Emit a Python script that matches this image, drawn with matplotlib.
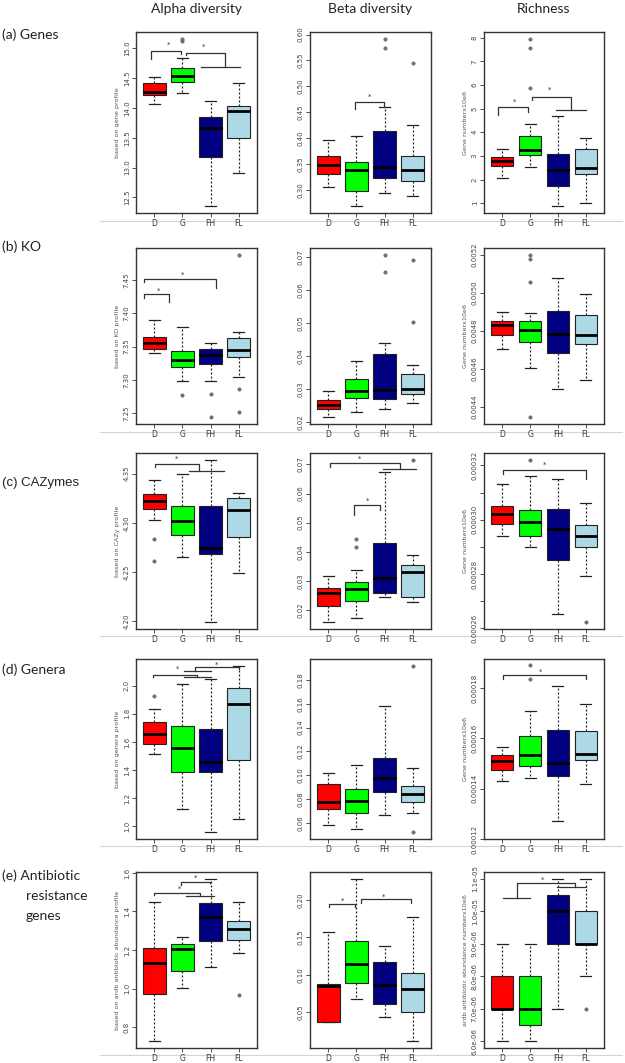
import matplotlib
matplotlib.use("Agg")
import matplotlib.pyplot as plt
from matplotlib.lines import Line2D
import numpy as np

# ---------------- data ----------------
groups = ["D", "G", "FH", "FL"]
colors = ["#FF0000", "#00FF00", "#000080", "#ADD8E6"]

# stats per group: [whislo, q1, median, q3, whishi]
genes_alpha = [[14.07, 14.22, 14.27, 14.42, 14.52],
               [14.25, 14.44, 14.53, 14.67, 14.83],
               [12.35, 13.18, 13.66, 13.85, 14.12],
               [12.90, 13.49, 13.94, 14.04, 14.41]]
genes_alpha_out = [[], [15.12, 15.16], [], []]

genes_beta = [[0.306, 0.331, 0.348, 0.365, 0.396],
              [0.269, 0.299, 0.338, 0.355, 0.404],
              [0.294, 0.323, 0.344, 0.415, 0.460],
              [0.288, 0.318, 0.339, 0.366, 0.426]]
genes_beta_out = [[], [], [0.575, 0.592], [0.546]]

genes_rich = [[2.08, 2.57, 2.79, 2.97, 3.29],
              [2.52, 3.06, 3.27, 3.85, 4.37],
              [0.87, 1.74, 2.40, 3.09, 4.67],
              [0.99, 2.24, 2.50, 3.29, 3.78]]
genes_rich_out = [[], [5.87, 7.58, 7.96], [], []]

ko_alpha = [[7.341, 7.3465, 7.355, 7.365, 7.390],
            [7.298, 7.319, 7.330, 7.344, 7.380],
            [7.298, 7.324, 7.337, 7.347, 7.3555],
            [7.3045, 7.3345, 7.345, 7.3625, 7.3715]]
ko_alpha_out = [[], [7.277], [7.279, 7.2435], [7.4885, 7.2865, 7.251]]

ko_beta = [[0.0214, 0.0241, 0.0253, 0.0266, 0.0294],
           [0.0231, 0.0273, 0.0294, 0.0329, 0.0386],
           [0.0240, 0.0269, 0.0296, 0.0407, 0.0439],
           [0.0258, 0.0286, 0.0299, 0.0346, 0.0374]]
ko_beta_out = [[], [], [0.0653, 0.0707], [0.0502, 0.0691]]

ko_rich = [[0.004705, 0.004776, 0.004829, 0.004850, 0.004899],
           [0.004605, 0.004741, 0.004801, 0.004852, 0.004895],
           [0.004495, 0.004685, 0.004785, 0.004902, 0.005079],
           [0.004543, 0.004732, 0.004776, 0.004881, 0.004990]]
ko_rich_out = [[], [0.004344, 0.005056, 0.005174, 0.005200], [], []]

caz_alpha = [[4.3028, 4.3140, 4.3217, 4.3291, 4.3433],
             [4.2652, 4.2872, 4.3020, 4.3166, 4.3500],
             [4.1990, 4.2680, 4.2747, 4.3166, 4.3642],
             [4.2489, 4.2853, 4.3129, 4.3247, 4.3298]]
caz_alpha_out = [[4.2839, 4.2613], [], [], []]

caz_beta = [[0.0157, 0.0212, 0.0258, 0.0277, 0.0317],
            [0.0174, 0.0230, 0.0271, 0.0295, 0.0337],
            [0.0246, 0.0259, 0.0311, 0.0429, 0.0673],
            [0.0226, 0.0246, 0.0330, 0.0353, 0.0390]]
caz_beta_out = [[], [0.0417, 0.0444], [], [0.0717]]

caz_rich = [[0.0002941, 0.0002985, 0.0003021, 0.0003051, 0.0003133],
            [0.0002900, 0.0002941, 0.0002991, 0.0003035, 0.0003161],
            [0.0002653, 0.0002851, 0.0002967, 0.0003040, 0.0003150],
            [0.0002792, 0.0002900, 0.0002941, 0.0002980, 0.0003063]]
caz_rich_out = [[], [0.0003222], [], [0.0002621]]

genera_alpha = [[1.517, 1.588, 1.657, 1.742, 1.834],
                [1.126, 1.389, 1.555, 1.711, 2.014],
                [0.957, 1.387, 1.460, 1.692, 2.047],
                [1.054, 1.474, 1.870, 1.983, 2.142]]
genera_alpha_out = [[1.924], [], [], []]

genera_beta = [[0.0580, 0.0718, 0.0777, 0.0928, 0.1020],
               [0.0550, 0.0684, 0.0785, 0.0886, 0.1087],
               [0.0670, 0.0864, 0.0976, 0.1147, 0.1581],
               [0.0687, 0.0777, 0.0839, 0.0906, 0.1060]]
genera_beta_out = [[], [], [], [0.0522, 0.1918]]

genera_rich = [[0.0001429, 0.0001475, 0.0001510, 0.0001533, 0.0001566],
               [0.0001444, 0.0001491, 0.0001535, 0.0001610, 0.0001710],
               [0.0001273, 0.0001451, 0.0001504, 0.0001635, 0.0001810],
               [0.0001419, 0.0001516, 0.0001539, 0.0001631, 0.0001738]]
genera_rich_out = [[], [0.0001835, 0.0001891], [], []]

arg_alpha = [[0.726, 0.972, 1.134, 1.212, 1.447],
             [1.003, 1.094, 1.203, 1.234, 1.269],
             [1.113, 1.247, 1.370, 1.444, 1.571],
             [1.186, 1.250, 1.310, 1.353, 1.449]]
arg_alpha_out = [[], [], [], [0.967]]

arg_beta = [[0.0375, 0.0375, 0.0851, 0.0878, 0.1577],
            [0.0678, 0.0887, 0.1141, 0.1457, 0.2289],
            [0.0441, 0.0606, 0.0869, 0.1167, 0.1386],
            [0.0108, 0.0500, 0.0807, 0.1029, 0.1777]]
arg_beta_out = [[], [], [], []]

arg_rich = [[6.0e-6, 7.0e-6, 7.0e-6, 8.0e-6, 9.0e-6],
            [6.0e-6, 6.5e-6, 7.0e-6, 8.0e-6, 9.0e-6],
            [7.0e-6, 9.0e-6, 1.0e-5, 1.05e-5, 1.1e-5],
            [8.0e-6, 9.0e-6, 9.0e-6, 1.0e-5, 1.1e-5]]
arg_rich_out = [[], [], [], [7.0e-6]]

# significance brackets (polylines in data coords) and stars
genes_alpha_sig = [[(0.88, 14.82), (0.88, 14.96), (1.95, 14.96), (1.95, 14.90)],
                   [(2.13, 14.88), (2.13, 14.92), (3.53, 14.92), (3.53, 14.69)],
                   [(2.67, 14.69), (4.06, 14.69)]]
genes_alpha_star = [(1.51, 15.06), (2.76, 15.03)]
genes_beta_sig = [[(1.95, 0.456), (1.95, 0.470), (2.97, 0.470), (2.97, 0.460)]]
genes_beta_star = [(2.46, 0.480)]
genes_rich_sig = [[(0.84, 4.74), (0.84, 5.06), (1.92, 5.06), (1.92, 4.88)],
                  [(2.06, 5.37), (2.06, 5.51), (3.47, 5.51), (3.47, 4.95)],
                  [(2.93, 4.95), (4.00, 4.95)]]
genes_rich_star = [(1.44, 5.30), (2.71, 5.79)]
ko_alpha_sig = [[(0.63, 7.4225), (0.63, 7.429), (1.53, 7.429), (1.53, 7.4165)],
                [(0.63, 7.4465), (0.63, 7.452), (3.20, 7.452), (3.20, 7.4375)]]
ko_alpha_star = [(1.13, 7.434), (2.00, 7.4585)]
caz_alpha_sig = [[(1.02, 4.3567), (1.02, 4.3601), (2.58, 4.3601), (2.58, 4.3524)],
                 [(2.22, 4.3524), (3.49, 4.3524)]]
caz_alpha_star = [(1.80, 4.3652)]
caz_beta_sig = [[(1.05, 0.0692), (1.05, 0.0706), (3.54, 0.0706), (3.54, 0.0684)],
                [(2.95, 0.0684), (4.12, 0.0684)],
                [(1.91, 0.0526), (1.91, 0.0560), (2.85, 0.0560), (2.85, 0.0545)]]
caz_beta_star = [(2.11, 0.0721), (2.40, 0.0574)]
caz_rich_sig = [[(1.02, 0.0003169), (1.02, 0.0003184), (4.00, 0.0003184), (4.00, 0.0003151)]]
caz_rich_star = [(2.52, 0.0003204)]
genera_alpha_sig = [[(0.94, 2.062), (0.94, 2.078), (2.52, 2.078), (2.52, 2.062)],
                    [(2.04, 2.062), (3.00, 2.062)],
                    [(2.46, 2.107), (2.46, 2.130), (4.00, 2.130), (4.00, 2.115)],
                    [(2.04, 2.107), (3.00, 2.107)]]
genera_alpha_star = [(1.82, 2.118), (3.20, 2.149)]
genera_rich_sig = [[(1.02, 0.0001838), (1.02, 0.0001854), (4.00, 0.0001854), (4.00, 0.0001838)]]
genera_rich_star = [(2.36, 0.0001866)]
arg_alpha_sig = [[(1.95, 1.537), (1.95, 1.554), (2.99, 1.554), (2.99, 1.546)],
                 [(0.99, 1.486), (0.99, 1.494), (2.61, 1.494), (2.61, 1.480)],
                 [(2.12, 1.480), (3.11, 1.480)]]
arg_alpha_star = [(2.47, 1.573), (1.91, 1.516)]
arg_beta_sig = [[(1.03, 0.1910), (1.03, 0.1942), (1.95, 0.1942), (1.95, 0.1910)],
                [(2.16, 0.1955), (2.16, 0.2013), (3.96, 0.2013), (3.96, 0.1955)]]
arg_beta_star = [(1.50, 0.1987), (2.96, 0.2045)]
arg_rich_sig = [[(1.03, 1.039e-5), (2.00, 1.039e-5)],
                [(1.54, 1.039e-5), (1.54, 1.085e-5), (3.61, 1.085e-5), (3.61, 1.074e-5)],
                [(2.96, 1.074e-5), (4.00, 1.074e-5)]]
arg_rich_star = [(2.44, 1.097e-5)]

col_titles = ["Alpha diversity", "Beta diversity", "Richness"]

# ---------------- layout ----------------
W, H = 625, 1063
fig = plt.figure(figsize=(6.25, 10.63), dpi=100)
fig.patch.set_facecolor("white")

col_x = [(136, 257), (310, 431), (484, 604)]
row_y = [(32, 213), (248, 424), (453, 629), (659, 839), (872, 1048)]

FRAME = "#333333"


def add_ax(c, r):
    x0, x1 = col_x[c]
    y0, y1 = row_y[r]
    return fig.add_axes([x0 / W, 1 - y1 / H, (x1 - x0) / W, (y1 - y0) / H])


def panel(c, r, stats, outs, ticks, fmt, ylabel=None, sig=None, stars=None,
          label_every=1):
    ax = add_ax(c, r)
    bstats = []
    for g, s, o in zip(groups, stats, outs):
        bstats.append(dict(label=g, whislo=s[0], q1=s[1], med=s[2], q3=s[3],
                           whishi=s[4], fliers=o))
    bp = ax.bxp(bstats, positions=[1, 2, 3, 4], widths=0.8, patch_artist=True,
                showfliers=True, capwidths=0.4,
                boxprops=dict(linewidth=0.8, edgecolor="#222222"),
                medianprops=dict(color="black", linewidth=2.0, solid_capstyle="butt"),
                whiskerprops=dict(linewidth=0.9, color="#222222", linestyle=(0, (1.6, 1.6))),
                capprops=dict(linewidth=0.9, color="#222222"),
                flierprops=dict(marker="o", markersize=2.4, markerfacecolor="#777777",
                                markeredgecolor="#555555", markeredgewidth=0.4))
    for patch, col in zip(bp["boxes"], colors):
        patch.set_facecolor(col)
    vals = [v for s in stats for v in s] + [v for o in outs for v in o]
    lo, hi = min(vals), max(vals)
    pad = 0.04 * (hi - lo)
    ax.set_ylim(lo - pad, hi + pad)
    ax.set_xlim(0.34, 4.66)
    ax.set_xticks([1, 2, 3, 4])
    ax.set_xticklabels(groups, fontsize=5.5, color="#333333")
    ax.set_yticks(ticks)
    labs = [(fmt(t) if i % label_every == 0 else "") for i, t in enumerate(ticks)]
    ax.set_yticklabels(labs, fontsize=5, color="#444444")
    for lbl in ax.get_yticklabels():
        lbl.set_rotation(90)
        lbl.set_va("center")
    ax.tick_params(direction="out", length=3, width=0.6, color="#333333", pad=1.5)
    for sp in ax.spines.values():
        sp.set_linewidth(1.0)
        sp.set_color(FRAME)
    if ylabel:
        ax.set_ylabel(ylabel, fontsize=4.6, color="#555555", labelpad=3)
    if sig:
        for poly in sig:
            xs = [p[0] for p in poly]
            ys = [p[1] for p in poly]
            ax.plot(xs, ys, color="#333333", lw=0.9, clip_on=False, zorder=5)
    if stars:
        for (x, y) in stars:
            ax.text(x, y, "*", fontsize=5, ha="center", va="center", color="#333333")
    return ax


f1 = lambda v: f"{v:.1f}"
f2 = lambda v: f"{v:.2f}"
f4 = lambda v: f"{v:.4f}"
f5 = lambda v: f"{v:.5f}"
fi = lambda v: f"{v:.0f}"
fe = lambda v: f"{v:.1e}"

# row a
panel(0, 0, genes_alpha, genes_alpha_out, np.arange(12.5, 15.01, 0.5), f1,
      "based on gene profile", genes_alpha_sig, genes_alpha_star)
panel(1, 0, genes_beta, genes_beta_out, np.arange(0.30, 0.601, 0.05), f2,
      None, genes_beta_sig, genes_beta_star)
panel(2, 0, genes_rich, genes_rich_out, np.arange(1, 8.01, 1), fi,
      "Gene numberx10e6", genes_rich_sig, genes_rich_star)
# row b
panel(0, 1, ko_alpha, ko_alpha_out, np.arange(7.25, 7.451, 0.05), f2,
      "based on KO profile", ko_alpha_sig, ko_alpha_star)
panel(1, 1, ko_beta, ko_beta_out, np.arange(0.02, 0.0701, 0.01), f2)
panel(2, 1, ko_rich, ko_rich_out, np.arange(0.0044, 0.00521, 0.0002), f4,
      "Gene numberx10e6")
# row c
panel(0, 2, caz_alpha, caz_alpha_out, np.arange(4.20, 4.351, 0.05), f2,
      "based on CAZy profile", caz_alpha_sig, caz_alpha_star)
panel(1, 2, caz_beta, caz_beta_out, np.arange(0.02, 0.0701, 0.01), f2,
      None, caz_beta_sig, caz_beta_star)
panel(2, 2, caz_rich, caz_rich_out, np.arange(0.00026, 0.000321, 0.00001), f5,
      "Gene numberx10e6", caz_rich_sig, caz_rich_star, label_every=2)
# row d
panel(0, 3, genera_alpha, genera_alpha_out, np.arange(1.0, 2.01, 0.2), f1,
      "based on genera profile", genera_alpha_sig, genera_alpha_star)
panel(1, 3, genera_beta, genera_beta_out, np.arange(0.06, 0.1801, 0.02), f2)
panel(2, 3, genera_rich, genera_rich_out, np.arange(0.00012, 0.0001801, 0.00002), f5,
      "Gene numberx10e6", genera_rich_sig, genera_rich_star)
# row e
panel(0, 4, arg_alpha, arg_alpha_out, np.arange(0.8, 1.61, 0.2), f1,
      "based on ardb antibiotic abundance profile", arg_alpha_sig, arg_alpha_star)
panel(1, 4, arg_beta, arg_beta_out, np.arange(0.05, 0.201, 0.05), f2,
      None, arg_beta_sig, arg_beta_star)
panel(2, 4, arg_rich, arg_rich_out, np.arange(6e-6, 1.101e-5, 1e-6), fe,
      "ardb antibiotic abundance numberx10e6", arg_rich_sig, arg_rich_star)

# column titles
for (x0, x1), t in zip(col_x, col_titles):
    fig.text((x0 + x1) / 2 / W, 1 - 9 / H, t, fontsize=10, family="Lato",
             ha="center", va="center", color="#222222")

# row labels
fig.text(2 / W, 1 - 35 / H, "(a) Genes", fontsize=10, family="Lato", va="center", color="#222222")
fig.text(2 / W, 1 - 247 / H, "(b) KO", fontsize=10, family="Lato", va="center", color="#222222")
fig.text(2 / W, 1 - 483 / H, "(c) CAZymes", fontsize=9.5, family="Liberation Sans", va="center", color="#222222")
fig.text(2 / W, 1 - 670 / H, "(d) Genera", fontsize=10, family="Lato", va="center", color="#222222")
fig.text(2 / W, 1 - 876 / H, "(e) Antibiotic", fontsize=10, family="Lato", va="center", color="#222222")
fig.text(26 / W, 1 - 896 / H, "resistance", fontsize=10, family="Lato", va="center", color="#222222")
fig.text(26 / W, 1 - 916 / H, "genes", fontsize=10, family="Lato", va="center", color="#222222")

# faint separator lines under each row
for yy in [221, 432, 636, 846, 1055]:
    fig.add_artist(Line2D([100 / W, 622 / W], [1 - yy / H, 1 - yy / H],
                          color="#d4d4d4", lw=0.8, zorder=0))

fig.savefig("out.png", dpi=100, facecolor="white")
